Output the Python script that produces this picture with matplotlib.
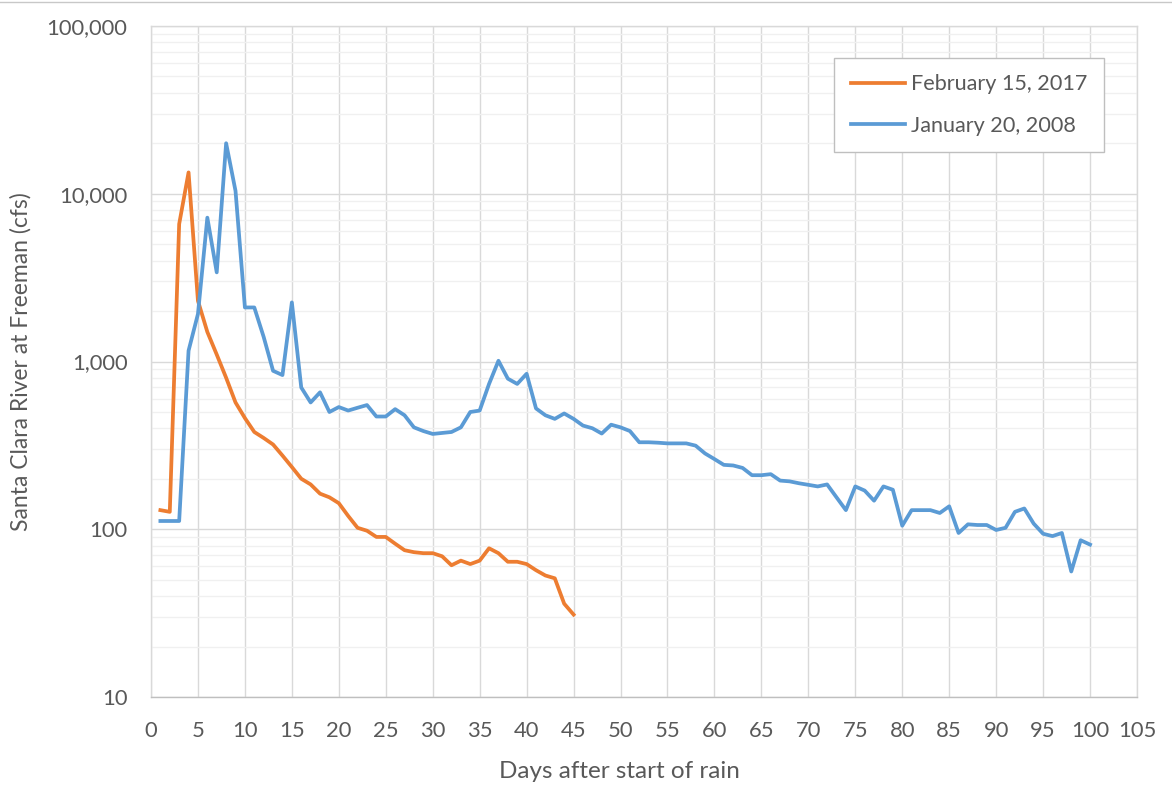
import matplotlib
matplotlib.use("Agg")
import matplotlib.pyplot as plt
from matplotlib.ticker import FixedLocator, LogLocator, NullFormatter, FuncFormatter
from matplotlib.lines import Line2D

# Daily flow (cfs) after the start of each storm
days_2017 = list(range(1, 46))
flow_2017 = [130, 127, 6600, 13400, 2300, 1500, 1100, 800, 570, 460,
             380, 350, 320, 275, 235, 200, 185, 163, 155, 143,
             120, 102, 98, 90, 90, 82, 75, 73, 72, 72,
             69, 61, 65, 62, 65, 77, 72, 64, 64, 62,
             57, 53, 51, 36, 31]

days_2008 = list(range(1, 101))
flow_2008 = [112, 112, 112, 1160, 1920, 7200, 3400, 20000, 10400, 2100,
             2100, 1400, 880, 830, 2250, 700, 570, 655, 500, 535,
             510, 530, 550, 470, 470, 520, 478, 405, 385, 370,
             375, 380, 405, 500, 510, 735, 1010, 790, 735, 845,
             525, 478, 455, 490, 455, 415, 400, 372, 420, 405,
             385, 330, 330, 328, 325, 325, 325, 315, 283, 262,
             242, 240, 232, 210, 210, 213, 195, 193, 188, 184,
             180, 185, 155, 130, 180, 170, 148, 180, 172, 105,
             130, 130, 130, 125, 137, 95, 107, 106, 106, 99,
             102, 127, 133, 108, 94, 91, 95, 56, 86, 81]

label_2017 = "February 15, 2017"
label_2008 = "January 20, 2008"
x_ticks = list(range(0, 106, 5))
y_ticks = [10, 100, 1000, 10000, 100000]

ORANGE = "#ED7D31"
BLUE = "#5B9BD5"
TEXT = "#595959"
FONT = "Lato"

W, H = 1172, 790
L, R, T, B = 151, 1137, 26, 697

fig = plt.figure(figsize=(W / 100, H / 100), dpi=100)
ax = fig.add_axes([L / W, 1 - B / H, (R - L) / W, (B - T) / H])

ax.plot(days_2017, flow_2017, color=ORANGE, lw=2.7, solid_joinstyle="round", zorder=3)
ax.plot(days_2008, flow_2008, color=BLUE, lw=2.7, solid_joinstyle="round", zorder=3)

ax.set_yscale("log")
ax.set_xlim(0, 105)
ax.set_ylim(10, 100000)

ax.xaxis.set_major_locator(FixedLocator(x_ticks))
ax.yaxis.set_major_locator(FixedLocator(y_ticks))
ax.yaxis.set_minor_locator(LogLocator(base=10, subs=range(2, 10)))
ax.yaxis.set_minor_formatter(NullFormatter())
ax.yaxis.set_major_formatter(FuncFormatter(lambda v, p: f"{int(round(v)):,}"))

ax.grid(True, which="major", axis="both", color="#d9d9d9", lw=1.0, zorder=0)
ax.grid(True, which="minor", axis="y", color="#f0f0f0", lw=1.0, zorder=0)
ax.set_axisbelow(True)

for side in ["left", "right", "top", "bottom"]:
    ax.spines[side].set_color("#d9d9d9")
    ax.spines[side].set_linewidth(1.0)
ax.spines["bottom"].set_color("#bfbfbf")

ax.tick_params(axis="both", which="both", length=0, colors=TEXT, labelsize=15.8)
ax.tick_params(axis="x", pad=17)
ax.tick_params(axis="y", pad=17)
for lbl in ax.get_xticklabels() + ax.get_yticklabels():
    lbl.set_fontfamily(FONT)

ax.set_xlabel("Days after start of rain", fontsize=17.5, color=TEXT, family=FONT)
ax.set_ylabel("Santa Clara River at Freeman (cfs)", fontsize=16.5, color=TEXT, family=FONT)
ax.xaxis.set_label_coords((619 - L) / (R - L), -(772 - B) / (B - T))
ax.xaxis.label.set_va("center")
ax.yaxis.set_label_coords(-(L - 21) / (R - L), 0.5)
ax.yaxis.label.set_va("center")

handles = [Line2D([], [], color=ORANGE, lw=2.7), Line2D([], [], color=BLUE, lw=2.7)]
leg = ax.legend(handles, [label_2017, label_2008], loc="upper right",
                bbox_to_anchor=((1104 - L) / (R - L), 1 - (58 - T) / (B - T)),
                borderaxespad=0, frameon=True, fancybox=False,
                edgecolor="#bfbfbf", framealpha=1, borderpad=0.75, labelspacing=1.0,
                handlelength=2.5, handletextpad=0.3,
                prop={"family": FONT, "size": 15.6})
leg.get_frame().set_linewidth(1.0)
for t in leg.get_texts():
    t.set_color(TEXT)

# thin border along the top of the chart area
fig.add_artist(Line2D([0, 1], [1 - 2 / H, 1 - 2 / H], transform=fig.transFigure,
                      color="#c8c8c8", lw=1.0))

fig.savefig("out.png", dpi=100, facecolor="white")
